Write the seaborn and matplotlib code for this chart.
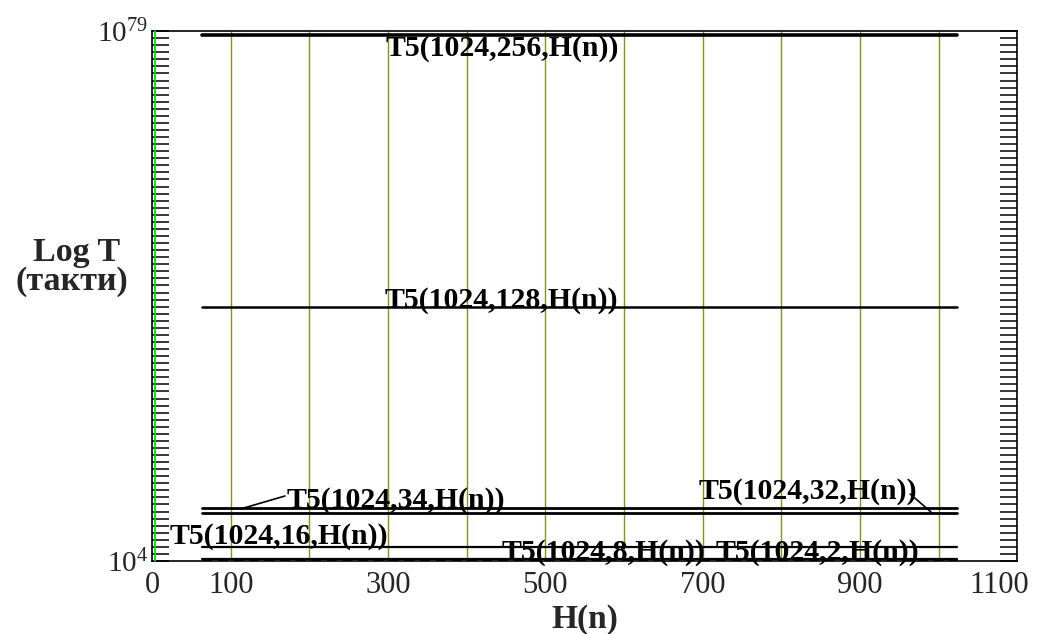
import matplotlib
matplotlib.use("Agg")
import matplotlib.pyplot as plt
import matplotlib.transforms as mtransforms
import seaborn as sns
import pandas as pd
import numpy as np
from matplotlib.ticker import FixedLocator, NullFormatter

sns.set_theme(style="white")
plt.rcParams['font.family'] = ['Liberation Serif', 'DejaVu Serif']
plt.rcParams['mathtext.fontset'] = 'custom'
plt.rcParams['mathtext.rm'] = 'Liberation Serif'
plt.rcParams['mathtext.it'] = 'Liberation Serif'

# ---- data ----
h_values = [64, 1024]
series_names = ["T5(1024,256,H(n))", "T5(1024,128,H(n))", "T5(1024,34,H(n))",
                "T5(1024,32,H(n))", "T5(1024,16,H(n))", "T5(1024,8,H(n))",
                "T5(1024,2,H(n))"]
series_values = [2.5e78, 8.0e39, 2.8e11, 5.5e10, 1.0e6, 1.8e4, 1.15e4]
x_tick_values = [0, 100, 300, 500, 700, 900, 1100]
x_tick_labels = ["0", "100", "300", "500", "700", "900", "1100"]
grid_positions = [100, 200, 300, 400, 500, 600, 700, 800, 900, 1000]
y_tick_values = [1e4, 1e79]
y_tick_labels = [r"$10^{4}$", r"$10^{79}$"]

rows = []
for name, val in zip(series_names, series_values):
    for h in h_values:
        rows.append({"series": name, "H": h, "T": val})
df = pd.DataFrame(rows)

styles = {
    "T5(1024,256,H(n))": dict(lw=2.6, ls="-"),
    "T5(1024,128,H(n))": dict(lw=1.8, ls="-"),
    "T5(1024,34,H(n))": dict(lw=2.0, ls="-"),
    "T5(1024,32,H(n))": dict(lw=2.0, ls="-"),
    "T5(1024,16,H(n))": dict(lw=1.6, ls="-"),
    "T5(1024,8,H(n))": dict(lw=1.6, ls="-"),
    "T5(1024,2,H(n))": dict(lw=3.5, ls=(0, (2, 1.2))),
}

fig = plt.figure(figsize=(10.42, 6.34), dpi=100)
ax = fig.add_axes([0.1459, 0.1151, 0.8303, 0.8359])

ax.vlines(grid_positions, 1e4, 1e79, colors="#8f8f10", lw=1.0, zorder=1)

for name in series_names:
    sub = df[df["series"] == name]
    sns.lineplot(data=sub, x="H", y="T", ax=ax, color="black",
                 linewidth=styles[name]["lw"], linestyle=styles[name]["ls"],
                 legend=False, zorder=3)

ax.set_yscale("log")
ax.set_xlim(0, 1100)
ax.set_ylim(1e4, 1e79)

ax.set_xticks(x_tick_values)
ax.set_xticklabels(x_tick_labels, fontsize=22)
ax.tick_params(axis="x", length=0, pad=7)
last = ax.get_xticklabels()[-1]
last.set_transform(last.get_transform() +
                   mtransforms.ScaledTranslation(-0.18, 0, fig.dpi_scale_trans))

ax.yaxis.set_major_locator(FixedLocator(y_tick_values))
ax.set_yticklabels(y_tick_labels, fontsize=21)
ax.yaxis.set_minor_locator(FixedLocator([10.0 ** k for k in range(5, 79)]))
ax.yaxis.set_minor_formatter(NullFormatter())
ax.tick_params(axis="y", which="both", direction="in", left=True, right=True,
               length=12, width=1.1, color="black", pad=3)
ax.set_ylabel("")
ax.set_xlabel("H(n)", fontsize=24, fontweight="bold", labelpad=3)

for sp in ax.spines.values():
    sp.set_color("black")
    sp.set_linewidth(1.2)
    sp.set_visible(True)
ax.plot([0.003, 0.003], [0, 1], transform=ax.transAxes, color="#00e000",
        lw=1.3, zorder=5, clip_on=False)

fig.text(0.073, 0.6025, "Log T", fontsize=24.5, fontweight="bold", ha="center", va="center")
fig.text(0.069, 0.556, "(такти)", fontsize=24.5, fontweight="bold", ha="center", va="center")

lab_kw = dict(fontsize=21.5, fontweight="bold", color="black", zorder=6)
ax.text(297, 2.5e78, series_names[0], va="top", ha="left", **lab_kw)
ax.text(296, 8.0e39, series_names[1], va="baseline", ha="left", **lab_kw)
ax.text(171, 3.5e11, series_names[2], va="baseline", ha="left", **lab_kw)
ax.plot([115, 169], [2.8e11, 1.6e13], color="black", lw=1.2)
ax.text(695, 6.0e12, series_names[3], va="baseline", ha="left", **lab_kw)
ax.plot([964, 992], [3.0e13, 6.0e10], color="black", lw=1.2)
ax.text(22, 2.6e6, series_names[4], va="baseline", ha="left", **lab_kw)
ax.text(444, 1.5e4, series_names[5], va="baseline", ha="left", **lab_kw)
ax.text(717, 1.5e4, series_names[6], va="baseline", ha="left", **lab_kw)

fig.savefig("out.png", dpi=100, facecolor="white")
